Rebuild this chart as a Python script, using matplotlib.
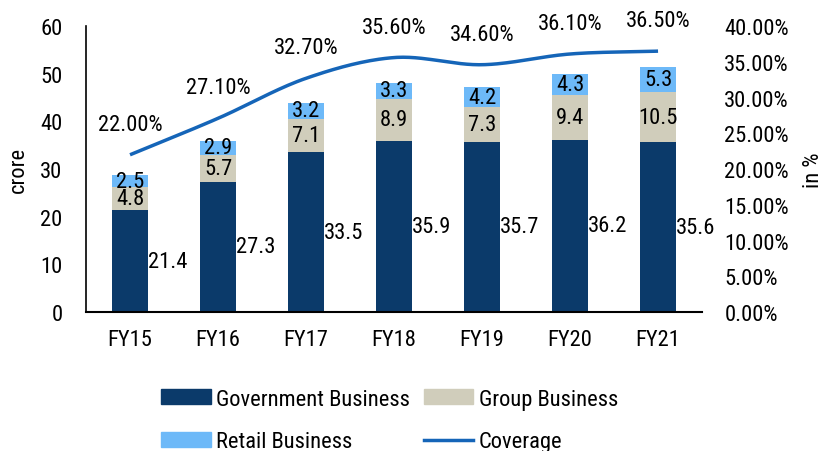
import matplotlib
matplotlib.use("Agg")
import matplotlib.pyplot as plt
import numpy as np
from matplotlib.lines import Line2D
from matplotlib.patches import Patch
from matplotlib.ticker import FuncFormatter, MultipleLocator

categories = ["FY15", "FY16", "FY17", "FY18", "FY19", "FY20", "FY21"]
government = [21.4, 27.3, 33.5, 35.9, 35.7, 36.2, 35.6]
group = [4.8, 5.7, 7.1, 8.9, 7.3, 9.4, 10.5]
retail = [2.5, 2.9, 3.2, 3.3, 4.2, 4.3, 5.3]
coverage = [22.0, 27.1, 32.7, 35.6, 34.6, 36.1, 36.5]

plt.rcParams['font.family'] = ['Roboto Condensed', 'Archivo Narrow', 'Liberation Sans', 'DejaVu Sans']
FS = 16.2

c_gov = "#0b3a6a"
c_grp = "#d0cdbb"
c_ret = "#6db9f8"
c_line = "#1565b8"

fig = plt.figure(figsize=(8.24, 4.52), dpi=100)
ax = fig.add_axes([0.1044, 0.3075, 0.7476, 0.6325])
x = np.arange(len(categories))
w = 0.4
gov = np.array(government); grp = np.array(group); ret = np.array(retail)
ax.bar(x, gov, w, color=c_gov, zorder=2)
ax.bar(x, grp, w, bottom=gov, color=c_grp, zorder=2)
ax.bar(x, ret, w, bottom=gov + grp, color=c_ret, zorder=2)

for i in range(len(x)):
    ax.text(x[i] + w / 2, gov[i] / 2, f"{gov[i]:.1f}", ha='left', va='center', fontsize=FS)
    ax.text(x[i], gov[i] + grp[i] / 2, f"{grp[i]:.1f}", ha='center', va='center', fontsize=FS)
    ax.text(x[i], gov[i] + grp[i] + ret[i] / 2, f"{ret[i]:.1f}", ha='center', va='center', fontsize=FS)

ax.set_xlim(-0.5, len(x) - 0.5)
ax.set_ylim(0, 60)
ax.yaxis.set_major_locator(MultipleLocator(10))
ax.set_xticks(x)
ax.set_xticklabels(categories)
ax.tick_params(axis='both', length=0, labelsize=FS)
ax.tick_params(axis='x', pad=12)
ax.tick_params(axis='y', pad=17)
for s in ['top', 'right']:
    ax.spines[s].set_visible(False)
ax.spines['left'].set_linewidth(1.2)
ax.spines['bottom'].set_linewidth(1.5)
ax.set_ylabel("crore", fontsize=FS, labelpad=8)

ax2 = ax.twinx()
ax2.set_ylim(0, 40)
ax2.yaxis.set_major_locator(MultipleLocator(5))
ax2.yaxis.set_major_formatter(FuncFormatter(lambda v, p: f"{v:.2f}%"))
ax2.tick_params(axis='y', length=0, labelsize=FS, pad=16)
for s in ['top', 'right', 'left', 'bottom']:
    ax2.spines[s].set_visible(False)
ax2.set_ylabel("in %", fontsize=FS, labelpad=10)

# smooth (Catmull-Rom) rendering of the coverage line
cov = np.array(coverage)
px = np.concatenate([[2 * x[0] - x[1]], x, [2 * x[-1] - x[-2]]]).astype(float)
py = np.concatenate([[2 * cov[0] - cov[1]], cov, [2 * cov[-1] - cov[-2]]])
sx, sy = [], []
t = np.linspace(0, 1, 30)
for k in range(1, len(px) - 2):
    p0, p1, p2, p3 = [np.array([px[j], py[j]]) for j in (k - 1, k, k + 1, k + 2)]
    tension = 0.5
    m1 = (p2 - p0) * tension
    m2 = (p3 - p1) * tension
    h00 = 2 * t**3 - 3 * t**2 + 1
    h10 = t**3 - 2 * t**2 + t
    h01 = -2 * t**3 + 3 * t**2
    h11 = t**3 - t**2
    pts = np.outer(h00, p1) + np.outer(h10, m1) + np.outer(h01, p2) + np.outer(h11, m2)
    sx.extend(pts[:, 0]); sy.extend(pts[:, 1])
ax2.plot(sx, sy, color=c_line, lw=2.5, solid_capstyle='butt', zorder=3)
for i in range(len(x)):
    ax2.annotate(f"{cov[i]:.2f}%", (x[i], cov[i]), xytext=(0, 22), textcoords='offset points',
                 ha='center', va='center', fontsize=FS)

handles = [Patch(color=c_gov), Patch(color=c_ret), Patch(color=c_grp),
           Line2D([0], [0], color=c_line, lw=2.5)]
labels = ["Government Business", "Retail Business", "Group Business", "Coverage"]
fig.legend(handles, labels, ncol=2, loc='upper center', bbox_to_anchor=(0.473, 0.183),
           frameon=False, fontsize=FS, handlelength=2.2, handleheight=0.6,
           columnspacing=0.6, labelspacing=0.97, handletextpad=0.25)

fig.savefig("out.png", dpi=100)
